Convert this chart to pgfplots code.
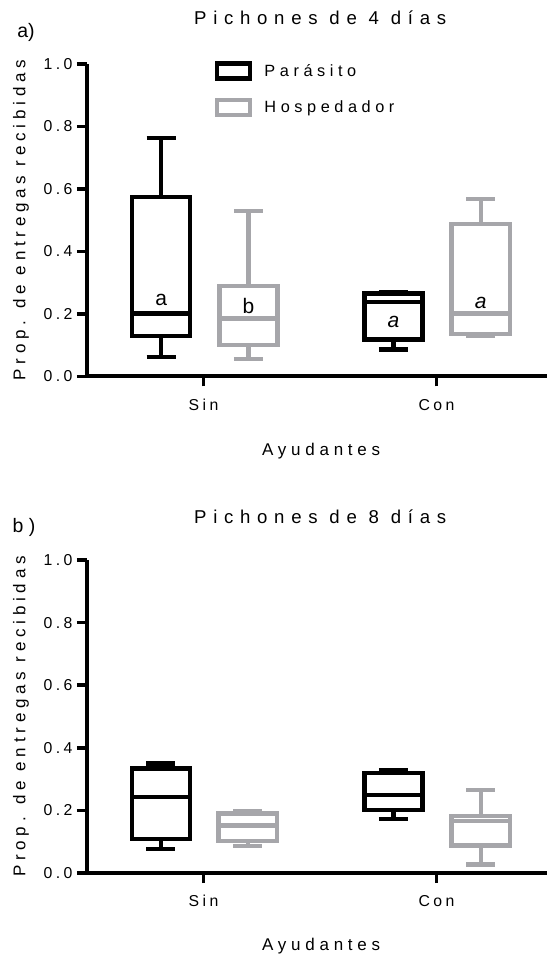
\documentclass[border=0pt]{standalone}
\usepackage{fontspec}
\setmainfont{Liberation Sans}
\newfontfamily\spaced{Liberation Sans}[LetterSpace=28]
\newfontfamily\titlefont{Liberation Sans}[LetterSpace=36]
\newfontfamily\tickfont{Liberation Sans}[LetterSpace=22]
\usepackage{pgfplots}
\pgfplotsset{compat=1.18}
\usepgfplotslibrary{statistics}
\definecolor{hgray}{RGB}{166,166,170}

\pgfplotsset{
  panel/.style={
    scale only axis, width=460pt,
    xmin=-0.5, xmax=1.474, ymin=0, ymax=1,
    axis lines*=left,
    axis line style={line width=4pt, black},
    xtick={0,1}, xticklabels={Sin,Con},
    ytick={0,0.2,0.4,0.6,0.8,1}, yticklabels={0.0,0.2,0.4,0.6,0.8,1.0},
    tick align=outside, major tick length=10pt,
    tick style={line width=3.5pt, black},
    /pgf/number format/assume math mode=true,
    ticklabel style={font=\tickfont\fontsize{15.8}{18}\selectfont},
    xticklabel style={yshift=-9pt},
    yticklabel style={xshift=-1pt},
    clip=false,
    boxplot/draw direction=y,
    every axis y label/.style={at={(axis description cs:-0.1435,0.5)}, rotate=90, anchor=center,
      font=\spaced\fontsize{17}{20}\selectfont},
    every axis x label/.style={at={(axis description cs:0.509,-0.240)}, anchor=center,
      font=\spaced\fontsize{17}{20}\selectfont},
    ylabel={Prop. de entregas recibidas},
    xlabel={Ayudantes},
  },
  pbox/.style={forget plot, draw=black, line width=4.4pt, line join=miter,
    boxplot prepared={#1, box extend=0.25, whisker extend=0.125}},
  hbox/.style={forget plot, draw=hgray, line width=4.4pt, line join=miter,
    boxplot prepared={#1, box extend=0.25, whisker extend=0.125}},
  legP/.style={legend image code/.code={\draw[black, line width=4.4pt] (0pt,-7.5pt) rectangle (33pt,7.5pt);}},
  legH/.style={legend image code/.code={\draw[hgray, line width=4.4pt] (0pt,-7.5pt) rectangle (33pt,7.5pt);}},
}

\begin{document}
\begin{tikzpicture}
\useasboundingbox (0,0) rectangle (547pt,956pt);

% ---------------- panel a ----------------
\begin{axis}[panel, height=312.5pt, at={(87pt,579.5pt)}, anchor=south west,
  legend style={at={(axis description cs:0.278,1.0096)}, anchor=north west,
    draw=none, fill=none, inner sep=0pt, row sep=17.5pt,
    /tikz/every odd column/.append style={column sep=10pt},
    font=\spaced\fontsize{16.3}{19}\selectfont},
  legend cell align=left]
\addlegendimage{legP}
\addlegendentry{Parásito}
\addlegendimage{legH}
\addlegendentry{Hospedador}

\addplot[pbox={draw position=-0.182, lower whisker=0.062, lower quartile=0.130,
  median=0.202, upper quartile=0.574, upper whisker=0.764}] coordinates {};
\addplot[hbox={draw position=0.193, lower whisker=0.056, lower quartile=0.100,
  median=0.186, upper quartile=0.290, upper whisker=0.529}] coordinates {};
\addplot[pbox={draw position=0.815, lower whisker=0.087, lower quartile=0.119,
  median=0.239, upper quartile=0.266, upper whisker=0.269}] coordinates {};
\addplot[hbox={draw position=1.19, lower whisker=0.130, lower quartile=0.136,
  median=0.202, upper quartile=0.488, upper whisker=0.568}] coordinates {};

\node[font=\fontsize{21}{24}\selectfont] at (axis cs:-0.182,0.245) {a};
\node[font=\fontsize{21}{24}\selectfont] at (axis cs:0.193,0.226) {b};
\node[font=\itshape\fontsize{21}{24}\selectfont] at (axis cs:0.815,0.175) {a};
\node[font=\itshape\fontsize{21}{24}\selectfont] at (axis cs:1.19,0.235) {a};

\node[font=\titlefont\fontsize{18.6}{22}\selectfont, anchor=center]
  at (axis description cs:0.507,1.147) {Pichones de 4 días};
\node[font=\fontsize{19.5}{22}\selectfont, anchor=center]
  at (axis description cs:-0.1326,1.1) {a)};
\end{axis}

% ---------------- panel b ----------------
\begin{axis}[panel, height=313pt, at={(87pt,83pt)}, anchor=south west,
  every axis x label/.style={at={(axis description cs:0.509,-0.232)}, anchor=center,
      font=\spaced\fontsize{17}{20}\selectfont}]
\addplot[pbox={draw position=-0.183, lower whisker=0.076, lower quartile=0.108,
  median=0.243, upper quartile=0.334, upper whisker=0.350}] coordinates {};
\addplot[hbox={draw position=0.19, lower whisker=0.086, lower quartile=0.102,
  median=0.152, upper quartile=0.190, upper whisker=0.198}] coordinates {};
\addplot[pbox={draw position=0.815, lower whisker=0.172, lower quartile=0.201,
  median=0.249, upper quartile=0.319, upper whisker=0.329}] coordinates {};
\addplot[hbox={draw position=1.19, lower whisker=0.027, lower quartile=0.088,
  median=0.166, upper quartile=0.182, upper whisker=0.265}] coordinates {};

\node[font=\titlefont\fontsize{18.6}{22}\selectfont, anchor=center]
  at (axis description cs:0.507,1.138) {Pichones de 8 días};
\node[font=\spaced\fontsize{19.5}{22}\selectfont, anchor=center]
  at (axis description cs:-0.137,1.105) {b)};
\end{axis}
\end{tikzpicture}
\end{document}
